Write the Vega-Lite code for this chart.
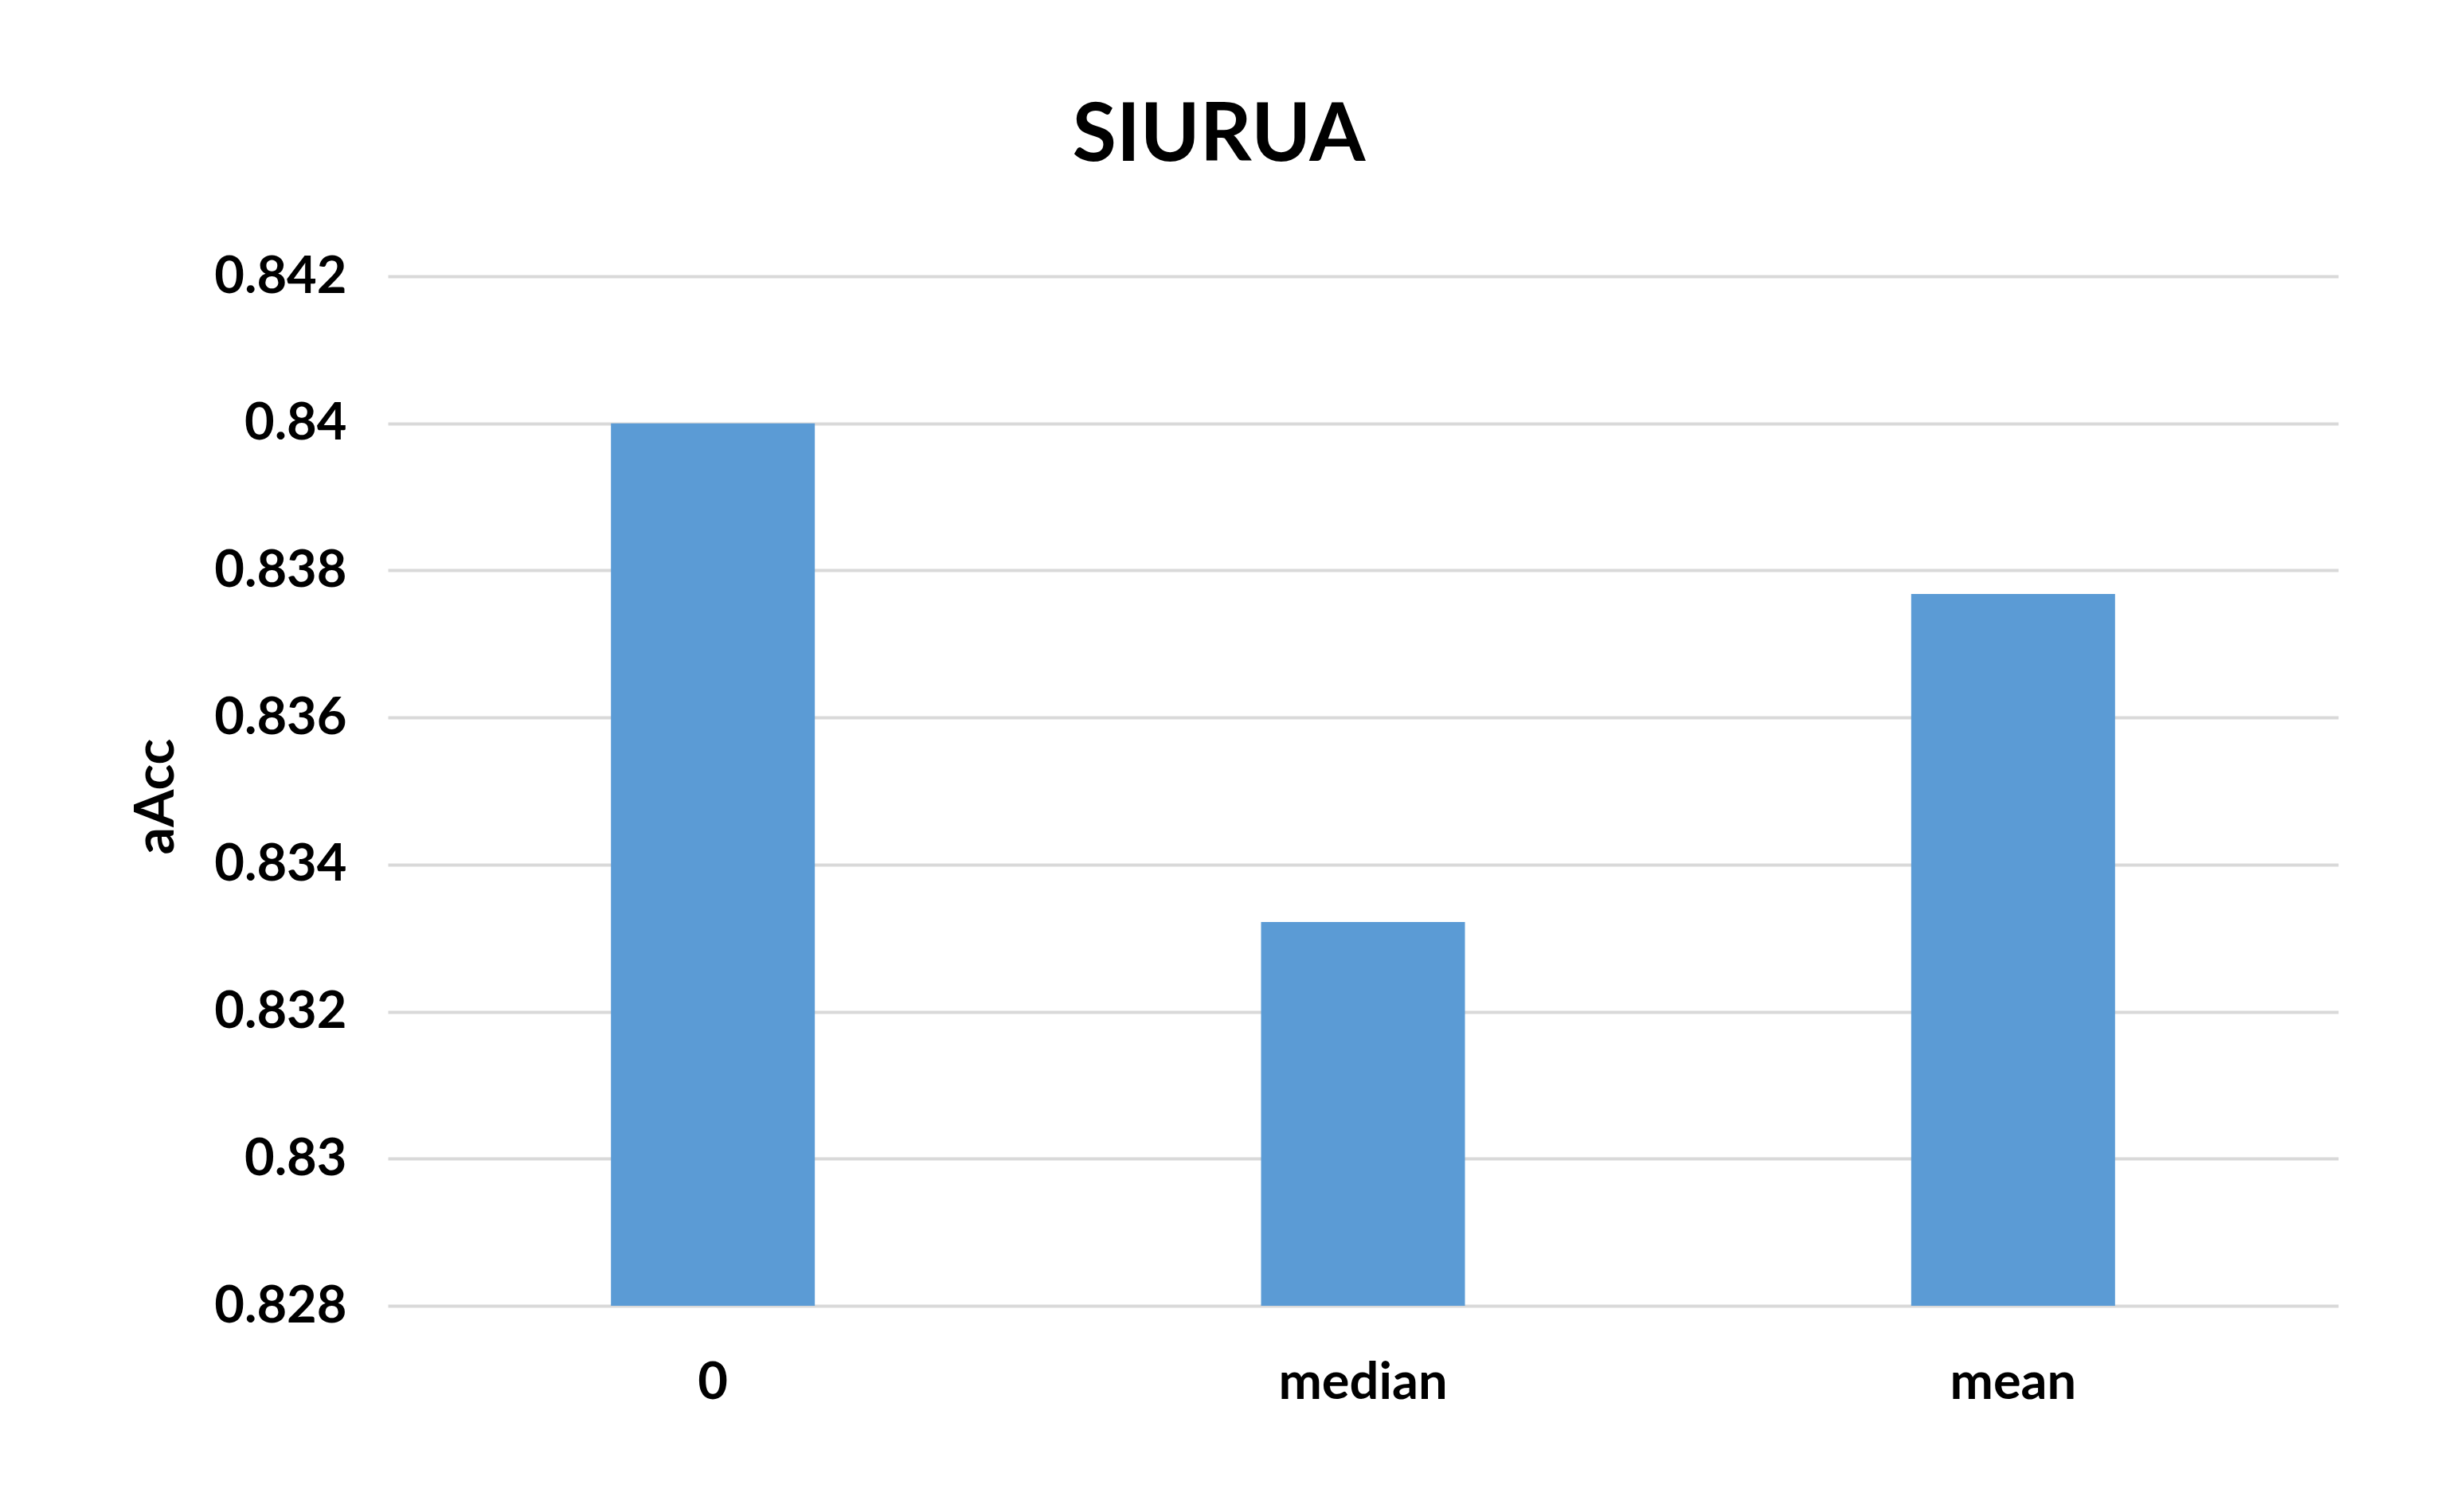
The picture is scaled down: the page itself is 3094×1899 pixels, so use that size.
{
  "$schema": "https://vega.github.io/schema/vega-lite/v6.json",
  "autosize": "none",
  "width": 2449,
  "height": 1293,
  "padding": {"left": 487, "top": 347, "right": 158, "bottom": 259},
  "background": "white",
  "title": {
    "text": "SIURUA",
    "font": "Lato",
    "fontSize": 101,
    "fontWeight": "bold",
    "color": "#000000",
    "anchor": "middle",
    "frame": "group",
    "dx": -181,
    "baseline": "alphabetic",
    "offset": 12
  },
  "data": {
    "values": [
      {"method": "0", "aAcc": 0.8400},
      {"method": "median", "aAcc": 0.83322},
      {"method": "mean", "aAcc": 0.83768}
    ]
  },
  "mark": {"type": "bar", "color": "#5B9BD5", "size": 256, "clip": true},
  "encoding": {
    "x": {
      "field": "method",
      "type": "nominal",
      "sort": ["0", "median", "mean"],
      "scale": {"paddingInner": 0, "paddingOuter": 0},
      "axis": {
        "title": null,
        "labelAngle": 0,
        "labelFont": "Lato",
        "labelFontSize": 65,
        "labelFontWeight": "bold",
        "labelColor": "#000000",
        "labelBaseline": "alphabetic",
        "labelPadding": 116,
        "labelLimit": 0,
        "ticks": false,
        "domain": false,
        "grid": false
      }
    },
    "y": {
      "field": "aAcc",
      "type": "quantitative",
      "scale": {"domain": [0.828, 0.842], "zero": false, "nice": false},
      "axis": {
        "values": [0.828, 0.830, 0.832, 0.834, 0.836, 0.838, 0.840, 0.842],
        "format": "~g",
        "title": "aAcc",
        "titleFont": "Lato",
        "titleFontSize": 68,
        "titleFontWeight": "bold",
        "titleColor": "#000000",
        "titleAngle": -90,
        "titleBaseline": "alphabetic",
        "titleAlign": "center",
        "titleX": -270,
        "titleY": 653,
        "labelFont": "Lato",
        "labelFontSize": 65,
        "labelFontWeight": "bold",
        "labelColor": "#000000",
        "labelPadding": 52,
        "ticks": false,
        "domain": false,
        "grid": true,
        "gridColor": "#d9d9d9",
        "gridWidth": 4
      }
    },
    "y2": {"datum": 0.828}
  },
  "config": {"view": {"stroke": null}}
}
